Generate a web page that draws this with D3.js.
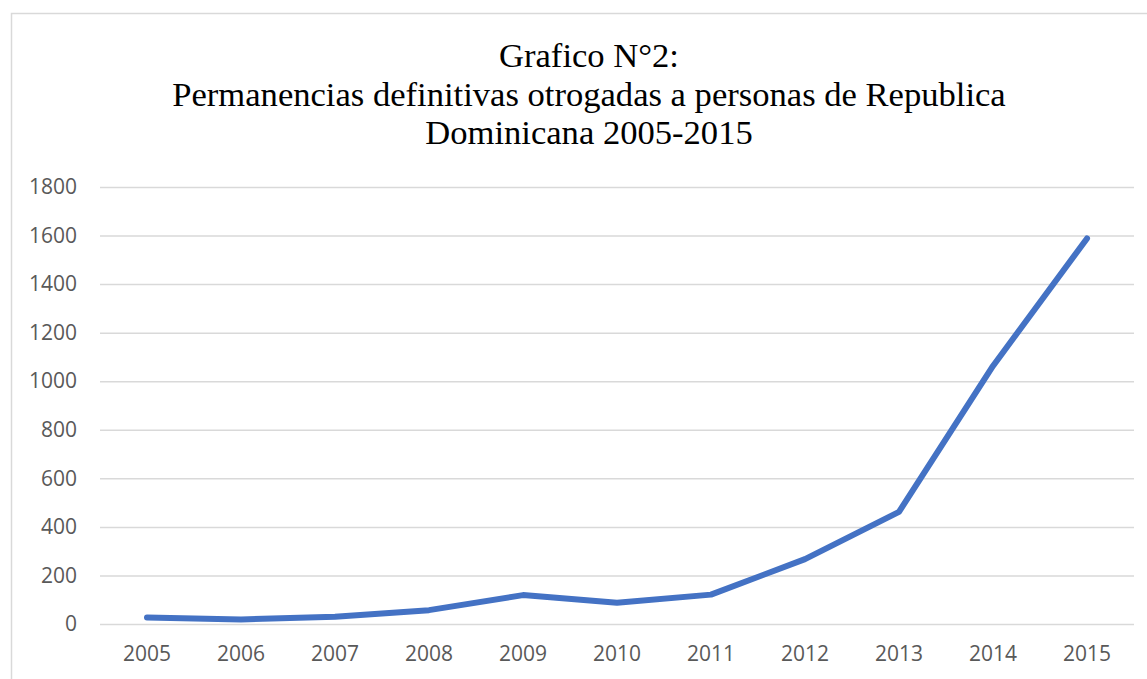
<!DOCTYPE html>
<html>
<head>
<meta charset="utf-8">
<script src="https://cdn.jsdelivr.net/npm/d3@7"></script>
<style>
  body { margin: 0; background: #fff; }
</style>
</head>
<body>
<script>
// Data
const years = ["2005", "2006", "2007", "2008", "2009", "2010", "2011", "2012", "2013", "2014", "2015"];
const permanencias = [27, 19, 30, 57, 119, 88, 121, 267, 462, 1063, 1588];
const yTicks = [0, 200, 400, 600, 800, 1000, 1200, 1400, 1600, 1800];
const titleLines = [
    "Grafico N°2:",
    "Permanencias definitivas otrogadas a personas de Republica",
    "Dominicana 2005-2015"
];

function renderChart() {
    const width = 1147;
    const height = 679;
    const marginTop = 187;
    const marginRight = 13;
    const marginBottom = 55;
    const marginLeft = 100;

    const svg = d3.select("body").append("svg")
        .attr("width", width)
        .attr("height", height)
        .attr("viewBox", [0, 0, width, height]);

    // Chart area frame (runs off the right and bottom edges)
    svg.append("rect")
        .attr("x", 11.5)
        .attr("y", 13.5)
        .attr("width", 1300)
        .attr("height", 800)
        .attr("fill", "#fff")
        .attr("stroke", "#d9d9d9")
        .attr("stroke-width", 1.5);

    // Title
    svg.append("g")
        .selectAll("text")
        .data(titleLines)
        .join("text")
        .attr("x", 589)
        .attr("y", (d, i) => 67 + i * 38.5)
        .attr("text-anchor", "middle")
        .attr("font-family", "'Liberation Serif', 'Times New Roman', serif")
        .attr("font-size", "34.6px")
        .attr("fill", "#000")
        .text(d => d);

    const x = d3.scaleBand()
        .domain(years)
        .range([marginLeft, width - marginRight]);

    const y = d3.scaleLinear()
        .domain([0, 1800])
        .range([height - marginBottom, marginTop]);

    // Y axis with gridlines
    svg.append("g")
        .attr("transform", `translate(${marginLeft},0)`)
        .call(d3.axisLeft(y).tickValues(yTicks).tickFormat(d3.format("d"))
            .tickSize(-(width - marginLeft - marginRight)).tickPadding(23))
        .call(g => g.select(".domain").remove())
        .call(g => g.selectAll(".tick line")
            .attr("stroke", "#d9d9d9")
            .attr("stroke-width", 1.5))
        .call(g => g.selectAll(".tick text")
            .attr("font-family", "'Open Sans', sans-serif")
            .attr("font-size", "21px")
            .attr("fill", "#595959"));

    // X axis labels
    svg.append("g")
        .attr("transform", `translate(0,${height - marginBottom})`)
        .call(d3.axisBottom(x).tickSize(0).tickPadding(22))
        .call(g => g.select(".domain").remove())
        .call(g => g.selectAll(".tick text")
            .attr("font-family", "'Open Sans', sans-serif")
            .attr("font-size", "21px")
            .attr("fill", "#595959"));

    const line = d3.line()
        .x((d, i) => x(years[i]) + x.bandwidth() / 2)
        .y(d => y(d));

    svg.append("path")
        .datum(permanencias)
        .attr("fill", "none")
        .attr("stroke", "#4472c4")
        .attr("stroke-width", 6)
        .attr("stroke-linejoin", "round")
        .attr("stroke-linecap", "round")
        .attr("d", line);
}

renderChart();
</script>
</body>
</html>
